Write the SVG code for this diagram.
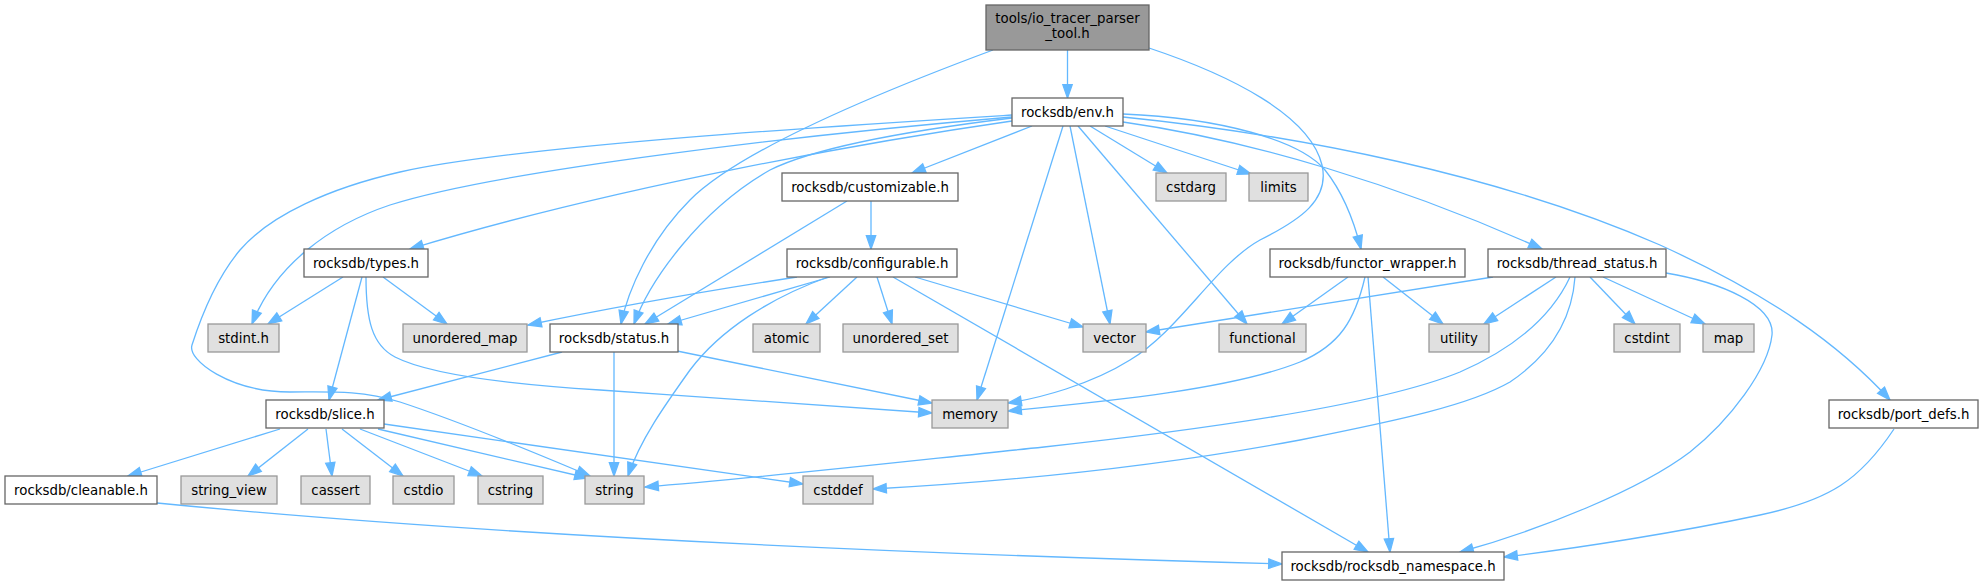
<svg xmlns="http://www.w3.org/2000/svg" width="1984" height="585" viewBox="0 0 1984 585">
<style>
.w{fill:#ffffff;stroke:#666666;stroke-width:1.3}
.g{fill:#e0e0e0;stroke:#999999;stroke-width:1.3}
.r{fill:#999999;stroke:#666666;stroke-width:1.3}
text{font-family:"DejaVu Sans","Liberation Sans",sans-serif;font-size:13.33px;fill:#000000;text-anchor:middle}
#edges path{fill:none;stroke:#63b8ff;stroke-width:1.3;marker-end:url(#ah)}
</style>
<defs>
<marker id="ah" markerUnits="userSpaceOnUse" markerWidth="16" markerHeight="12" refX="13.3" refY="4.67" orient="auto" overflow="visible">
<path d="M0,0 L13.3,4.67 L0,9.34 Z" fill="#63b8ff" stroke="#63b8ff" stroke-width="1.3"/>
</marker>
</defs>
<rect width="1984" height="585" fill="#ffffff"/>
<g id="edges">
<path d="M1067.5,50 L1067.5,98"/>
<path d="M993,50 C880,92 740,150 690,200 C650,240 628,290 621,324"/>
<path d="M1149,48 C1230,75 1310,115 1322,165 C1330,200 1300,220 1260,240 C1215,265 1180,330 1130,360 C1090,385 1040,398 1008,403"/>
<path d="M1012,121 C880,140 620,185 410,249"/>
<path d="M1012,117 C800,135 500,170 390,205 C330,225 275,265 252,324"/>
<path d="M1012,115 C850,125 520,145 400,172 C330,188 270,215 240,250 C215,280 200,320 192,345 C187,360 230,392 290,392 C330,392 360,390 400,402 C470,425 540,455 590,476"/>
<path d="M1012,118 C930,128 820,145 770,170 C700,210 650,280 634,324"/>
<path d="M1032,126 L912,173"/>
<path d="M1090,126 L1167,173"/>
<path d="M1105,126 L1251,174"/>
<path d="M1123,114 C1220,118 1300,140 1325,170 C1345,195 1355,225 1361,249"/>
<path d="M1123,122 C1250,140 1400,185 1542,249"/>
<path d="M1123,117 C1300,135 1500,175 1660,245 C1770,295 1840,345 1890,400"/>
<path d="M1063,126 L977,400"/>
<path d="M1070,126 L1110,324"/>
<path d="M1078,126 L1247,324"/>
<path d="M871,201 L871,249"/>
<path d="M847,201 L645,324"/>
<path d="M830,277 L668,324"/>
<path d="M797,277 C700,292 600,310 528,325"/>
<path d="M828,277 C770,298 720,330 690,370 C665,405 640,440 628,476"/>
<path d="M857,277 L806,324"/>
<path d="M877,277 L892,324"/>
<path d="M915,277 L1083,327"/>
<path d="M893,277 L1368,552"/>
<path d="M343,277 L268,324"/>
<path d="M383,277 L447,324"/>
<path d="M362,277 L329,400"/>
<path d="M366,277 C366,320 372,345 395,357 C430,375 520,385 600,390 C720,398 850,408 932,413"/>
<path d="M562,352 L378,400"/>
<path d="M614,352 L614,476"/>
<path d="M677,351 L932,403"/>
<path d="M280,429 L128,476"/>
<path d="M308,429 L248,476"/>
<path d="M326,429 L332,476"/>
<path d="M342,429 L403,476"/>
<path d="M360,429 L482,476"/>
<path d="M378,429 L588,478"/>
<path d="M384,424 L803,484"/>
<path d="M157,503 C350,522 700,548 1282,564"/>
<path d="M1348,277 L1282,324"/>
<path d="M1383,277 L1443,324"/>
<path d="M1365,277 C1355,320 1340,345 1300,362 C1230,390 1100,402 1008,411"/>
<path d="M1368,277 L1390,552"/>
<path d="M1493,277 L1146,332"/>
<path d="M1556,277 L1484,324"/>
<path d="M1590,277 L1635,324"/>
<path d="M1603,277 L1705,324"/>
<path d="M1570,277 C1550,320 1510,350 1460,372 C1380,405 1200,430 1044,447 C900,462 760,478 645,487"/>
<path d="M1575,277 C1572,320 1550,355 1510,382 C1470,405 1400,420 1300,440 C1150,468 1000,482 873,489"/>
<path d="M1666,273 C1720,282 1775,305 1772,335 C1768,370 1730,420 1690,452 C1640,490 1540,530 1460,552"/>
<path d="M1894,429 C1860,480 1830,500 1760,515 C1680,532 1580,548 1504,557"/>
</g>
<g id="node_io_tracer_parser_tool"><rect class="r" x="986" y="5" width="163" height="45"/><text x="1067.5" y="23">tools/io_tracer_parser</text><text x="1067.5" y="38">_tool.h</text></g>
<g id="node_env"><rect class="w" x="1012" y="98" width="111" height="28"/><text x="1067.5" y="116.5">rocksdb/env.h</text></g>
<g id="node_types"><rect class="w" x="304" y="249" width="124" height="28"/><text x="366" y="267.5">rocksdb/types.h</text></g>
<g id="node_stdint"><rect class="g" x="208" y="324" width="71" height="28"/><text x="243.5" y="342.5">stdint.h</text></g>
<g id="node_unordered_map"><rect class="g" x="403" y="324" width="124" height="28"/><text x="465" y="342.5">unordered_map</text></g>
<g id="node_status"><rect class="w" x="550" y="324" width="128" height="28"/><text x="614" y="342.5">rocksdb/status.h</text></g>
<g id="node_customizable"><rect class="w" x="782" y="173" width="176" height="28"/><text x="870" y="191.5">rocksdb/customizable.h</text></g>
<g id="node_configurable"><rect class="w" x="787" y="249" width="170" height="28"/><text x="872" y="267.5">rocksdb/configurable.h</text></g>
<g id="node_atomic"><rect class="g" x="753" y="324" width="67" height="28"/><text x="786.5" y="342.5">atomic</text></g>
<g id="node_unordered_set"><rect class="g" x="843" y="324" width="115" height="28"/><text x="900.5" y="342.5">unordered_set</text></g>
<g id="node_vector"><rect class="g" x="1083" y="324" width="63" height="28"/><text x="1114.5" y="342.5">vector</text></g>
<g id="node_functional"><rect class="g" x="1219" y="324" width="87" height="28"/><text x="1262.5" y="342.5">functional</text></g>
<g id="node_cstdarg"><rect class="g" x="1156" y="173" width="70" height="28"/><text x="1191" y="191.5">cstdarg</text></g>
<g id="node_limits"><rect class="g" x="1249" y="173" width="59" height="28"/><text x="1278.5" y="191.5">limits</text></g>
<g id="node_functor_wrapper"><rect class="w" x="1270" y="249" width="195" height="28"/><text x="1367.5" y="267.5">rocksdb/functor_wrapper.h</text></g>
<g id="node_thread_status"><rect class="w" x="1488" y="249" width="178" height="28"/><text x="1577" y="267.5">rocksdb/thread_status.h</text></g>
<g id="node_utility"><rect class="g" x="1429" y="324" width="60" height="28"/><text x="1459" y="342.5">utility</text></g>
<g id="node_cstdint"><rect class="g" x="1614" y="324" width="66" height="28"/><text x="1647" y="342.5">cstdint</text></g>
<g id="node_map"><rect class="g" x="1703" y="324" width="51" height="28"/><text x="1728.5" y="342.5">map</text></g>
<g id="node_port_defs"><rect class="w" x="1829" y="400" width="149" height="28"/><text x="1903.5" y="418.5">rocksdb/port_defs.h</text></g>
<g id="node_memory"><rect class="g" x="932" y="400" width="76" height="28"/><text x="970" y="418.5">memory</text></g>
<g id="node_slice"><rect class="w" x="266" y="400" width="118" height="28"/><text x="325" y="418.5">rocksdb/slice.h</text></g>
<g id="node_cleanable"><rect class="w" x="5" y="476" width="152" height="28"/><text x="81" y="494.5">rocksdb/cleanable.h</text></g>
<g id="node_string_view"><rect class="g" x="181" y="476" width="96" height="28"/><text x="229" y="494.5">string_view</text></g>
<g id="node_cassert"><rect class="g" x="301" y="476" width="69" height="28"/><text x="335.5" y="494.5">cassert</text></g>
<g id="node_cstdio"><rect class="g" x="393" y="476" width="61" height="28"/><text x="423.5" y="494.5">cstdio</text></g>
<g id="node_cstring"><rect class="g" x="478" y="476" width="65" height="28"/><text x="510.5" y="494.5">cstring</text></g>
<g id="node_string"><rect class="g" x="585" y="476" width="59" height="28"/><text x="614.5" y="494.5">string</text></g>
<g id="node_cstddef"><rect class="g" x="803" y="476" width="70" height="28"/><text x="838" y="494.5">cstddef</text></g>
<g id="node_rocksdb_namespace"><rect class="w" x="1282" y="552" width="222" height="28"/><text x="1393" y="570.5">rocksdb/rocksdb_namespace.h</text></g>
</svg>
